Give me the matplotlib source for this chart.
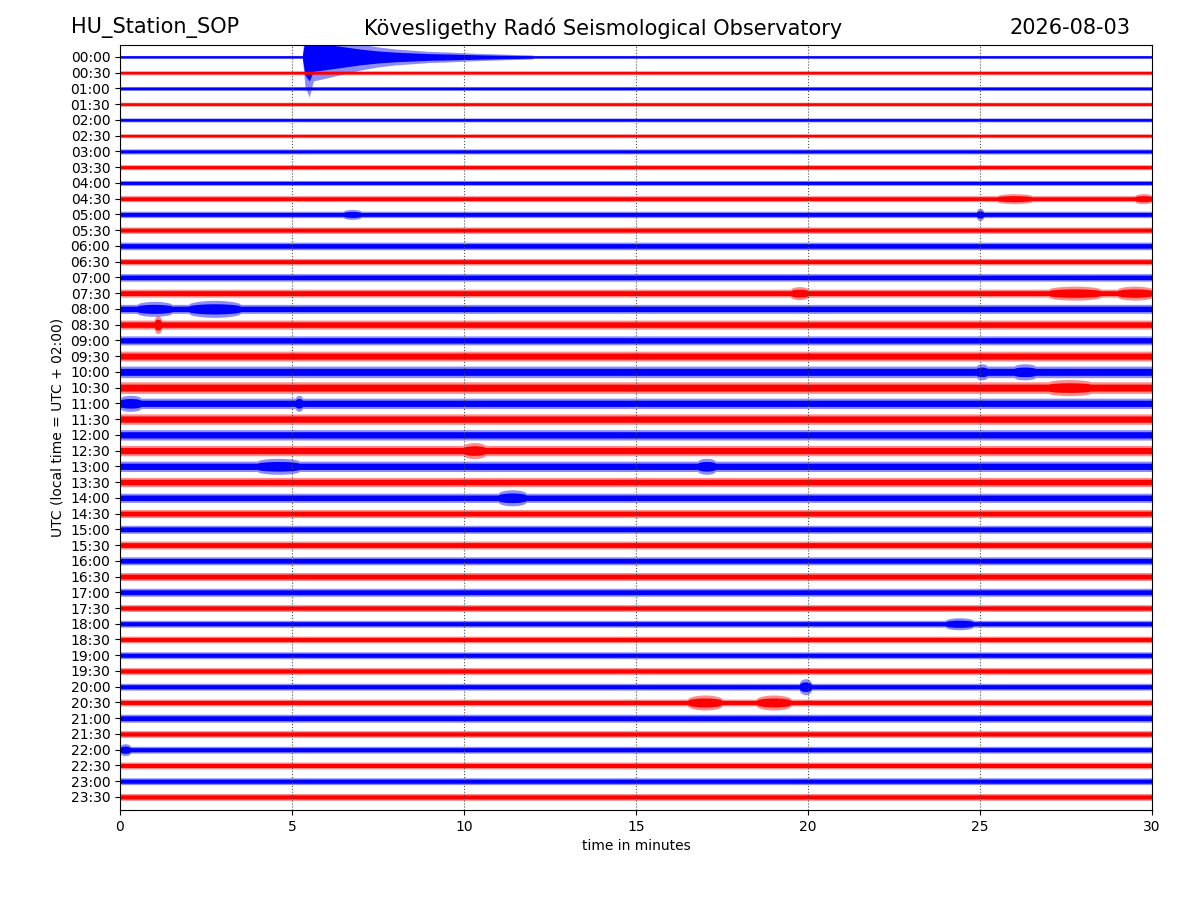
import numpy as np
import matplotlib
matplotlib.use("Agg")
import matplotlib.pyplot as plt

# row labels (UTC start of each 30-minute trace)
row_labels = [f"{h:02d}:{m:02d}" for h in range(24) for m in (0, 30)]

# background noise half-width of each trace, in pixels
noise_px = [1.5, 2.0, 2.0, 2.0, 2.0, 2.0, 2.5, 2.5, 2.5, 3.0, 3.2, 3.2,
            3.8, 3.2, 3.8, 4.0, 4.5, 4.5, 4.5, 5.0, 5.8, 5.8, 5.2, 5.2,
            5.2, 5.2, 5.2, 4.6, 4.6, 4.0, 4.0, 4.0, 4.0, 4.0, 4.0, 3.4,
            3.4, 3.4, 3.4, 3.4, 3.4, 3.4, 4.0, 3.4, 3.4, 3.4, 3.4, 3.4]

# earthquake on the 00:00 trace: envelope half-width (px) at given minutes
quake_t = [5.3, 5.38, 5.5, 5.62, 6.0, 6.5, 7.0, 7.5, 8.0, 9.0, 9.5, 10.5, 12.0]
quake_px = [1.5, 30, 40, 24, 21, 17, 13, 10, 8, 5.5, 5, 3.5, 2]

# other visible bursts: trace index, start minute, end minute, half-width px
burst_row = [9, 9, 10, 10, 15, 15, 15, 16, 16, 17,
             20, 20, 21, 22, 22, 25, 26, 26, 28,
             36, 40, 41, 41, 44]
burst_t0 = [25.5, 29.5, 6.5, 24.9, 19.5, 27.0, 29.0, 0.5, 2.0, 1.0,
            24.9, 26.0, 27.0, 0.0, 5.1, 10.0, 4.0, 16.8, 11.0,
            24.0, 19.75, 16.5, 18.5, 0.0]
burst_t1 = [26.5, 30.0, 7.0, 25.1, 20.0, 28.5, 30.0, 1.5, 3.5, 1.2,
            25.2, 26.6, 28.2, 0.6, 5.3, 10.6, 5.2, 17.3, 11.8,
            24.8, 20.1, 17.5, 19.5, 0.3]
burst_px = [5, 5, 5, 6, 6.5, 7, 7, 7.5, 8.5, 9,
            8, 8, 8, 8, 8, 8, 8, 8, 8,
            6, 8, 7.5, 7.5, 6]

row_px = 15.74  # pixel spacing between traces
colors = ["b", "r"]

fig = plt.figure(figsize=(12, 9), dpi=100)
ax = fig.add_axes([0.1, 0.1, 0.86, 0.85])

t = np.linspace(0, 30, 3001)
for i in range(len(row_labels)):
    env = np.full_like(t, noise_px[i])
    if i == 0:
        q = np.interp(t, quake_t, quake_px, left=0, right=0)
        env = np.maximum(env, q)
    for r, a, b, p in zip(burst_row, burst_t0, burst_t1, burst_px):
        if r == i:
            m = (t >= a) & (t <= b)
            bump = np.sin(np.pi * (t[m] - a) / (b - a)) ** 0.5
            env[m] = np.maximum(env[m], noise_px[i] + (p - noise_px[i]) * bump)
    env = env / row_px
    y0 = -i
    c = colors[i % 2]
    # lighter outer band for the ragged edge, solid core for the dense part
    ax.fill_between(t, y0 - env, y0 + env, color=c, alpha=0.45, lw=0)
    ax.fill_between(t, y0 - 0.6 * env, y0 + 0.6 * env, color=c, lw=0)
    ax.plot(t, np.full_like(t, y0), color=c, lw=0.8)

ax.set_xlim(0, 30)
ax.set_ylim(-len(row_labels) + 1 - 0.83, 0.76)
ax.set_yticks([-i for i in range(len(row_labels))])
ax.set_yticklabels(row_labels)
ax.set_xticks([0, 5, 10, 15, 20, 25, 30])
ax.grid(axis="x", linestyle=":", color="0.3", lw=0.8)
ax.set_xlabel("time in minutes")
ax.set_ylabel("UTC (local time = UTC + 02:00)")

fig.text(0.059, 0.969, "HU_Station_SOP", fontsize=15, va="center", ha="left")
fig.text(0.503, 0.969, "Kövesligethy Radó Seismological Observatory",
         fontsize=15, va="center", ha="center")
fig.text(0.942, 0.969, "2026-08-03", fontsize=15, va="center", ha="right")

fig.savefig("out.png", dpi=100)
